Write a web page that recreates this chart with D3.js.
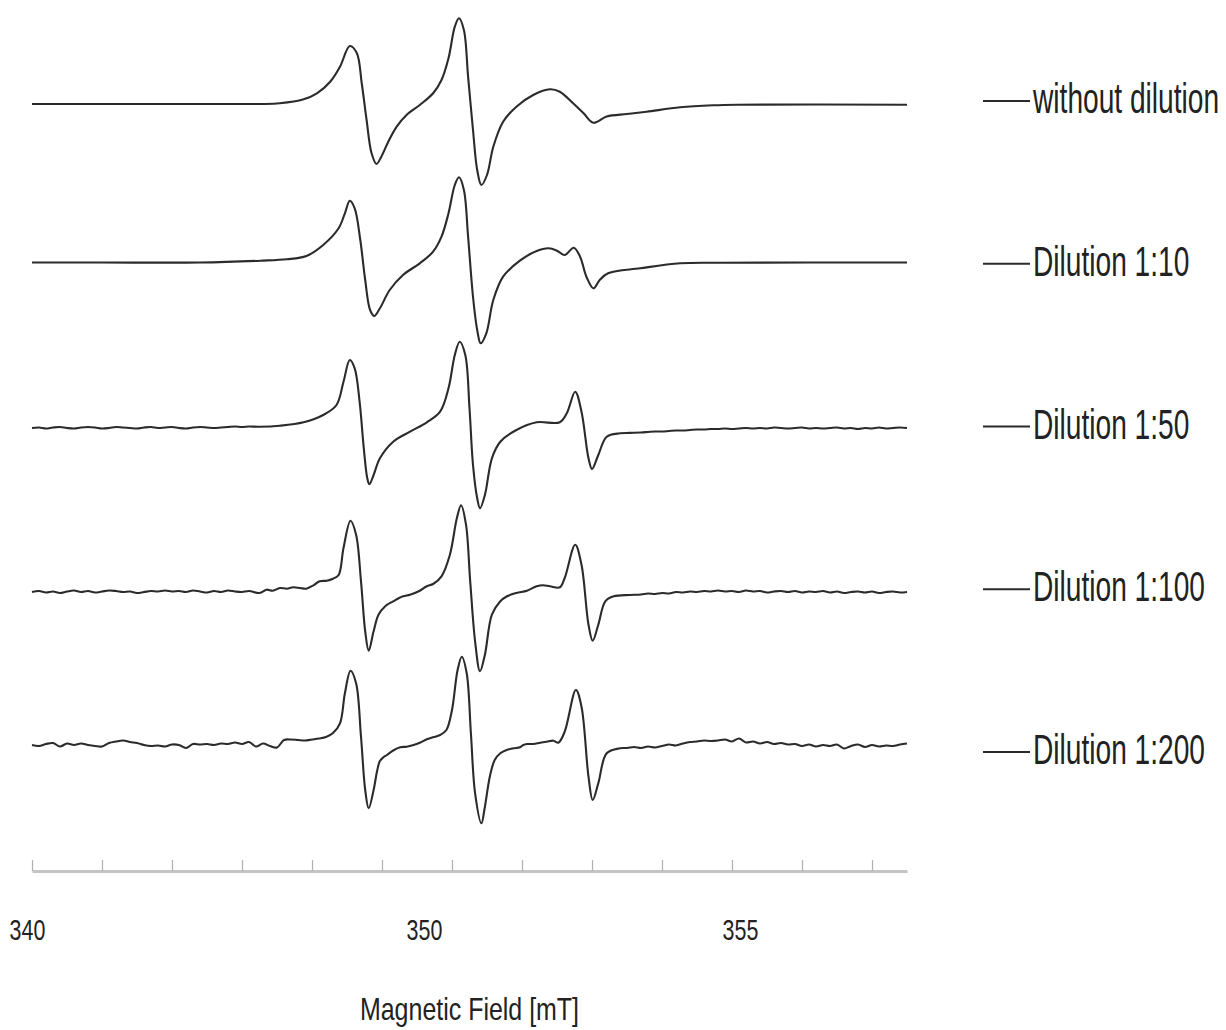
<!DOCTYPE html>
<html><head><meta charset="utf-8">
<script src="https://cdn.jsdelivr.net/npm/d3@7"></script>
<style>html,body{margin:0;padding:0;background:#fff;} svg{display:block;}</style>
</head><body>
<svg id="chart" width="1226" height="1030"></svg>
<script>
// ---------- data ----------
const seriesNames = ["without dilution", "Dilution 1:10", "Dilution 1:50", "Dilution 1:100", "Dilution 1:200"];
// vertical stacking offsets of the spectra (a.u.)
const stackOffsets = [796, 637.5, 472, 308, 155];
const tickLabels = [340, 350, 355];
const axisTitle = "Magnetic Field [mT]";

// [field mT, intensity a.u.]
const withoutDilution = [
 [345.00,0],[346.50,0],[347.90,0],[348.26,0],[348.54,0.7],[348.88,4.7],[349.07,10.7],[349.26,22.3],[349.40,37.3],
 [349.54,58],[349.64,51],[349.71,21],[349.78,-16],[349.85,-49],[349.92,-60],[349.99,-52.7],[350.09,-37.7],[350.21,-22.7],
 [350.35,-11],[350.54,-1],[350.73,10.7],[350.85,24],[350.95,45.7],[351.04,77.3],[351.10,85.7],[351.17,74],[351.23,27.3],
 [351.30,-26],[351.36,-66],[351.42,-81],[351.50,-71],[351.59,-42.7],[351.73,-17.7],[351.92,-2.7],[352.16,9],[352.40,14.7],
 [352.54,12.3],[352.73,0.7],[352.88,-9.3],[353.02,-18.7],[353.21,-12.5],[353.50,-10],[353.78,-7.7],[354.26,-3.3],
 [354.73,-1.3],[355.07,-0.7],[357.50,-0.7]
];
const dilution10 = [
 [345.00,0],[346.00,0],[347.40,0],[348.26,1.8],[348.64,3.2],[348.92,6.5],[349.16,17.5],[349.38,34.2],[349.47,49.2],
 [349.54,61.8],[349.61,54.2],[349.69,22.5],[349.76,-17.5],[349.83,-47.5],[349.89,-53.5],[349.97,-45.8],[350.11,-27.5],
 [350.30,-12.5],[350.54,-0.8],[350.73,10.8],[350.85,25.8],[350.95,49.2],[351.04,77.5],[351.10,85.2],[351.17,72.5],
 [351.23,25.8],[351.30,-34.2],[351.36,-67.5],[351.41,-80.8],[351.49,-70.8],[351.59,-37.5],[351.73,-14.2],[351.97,1.8],
 [352.21,11.5],[352.38,14.2],[352.50,11.8],[352.61,7.5],[352.74,14.8],[352.83,5.8],[352.92,-14.2],[353.02,-25.8],
 [353.11,-17.5],[353.23,-10.8],[353.69,-5.8],[354.26,-0.8],[354.83,-0.2],[357.50,0]
];
const dilution50 = [
 [345.0,0],[345.1,0.5],[345.2,-0.5],[345.3,0.5],[345.4,1],[345.5,0],[345.6,-0.5],[345.7,0.5],[345.8,1],[345.9,0.5],
 [346.0,-0.5],[346.1,0],[346.2,1],[346.3,0.5],[346.4,0],[346.5,-0.5],[346.6,0.5],[346.7,1],[346.8,0],[346.9,0.5],
 [347.0,1],[347.1,0],[347.2,-0.5],[347.3,0.5],[347.4,1],[347.5,0.5],[347.6,0],[347.7,0.5],[347.8,1],[347.9,1.5],
 [348.0,1],[348.1,1.5],
 [348.25,1.3],[348.54,2.3],[348.88,5.7],[349.16,13],[349.35,23],[349.45,46.3],[349.54,68],[349.61,59.7],[349.68,26.3],
 [349.74,-20.3],[349.79,-50.3],[349.82,-56.3],[349.88,-47],[349.97,-30.3],[350.16,-13.7],[350.40,-3.7],[350.64,5.7],
 [350.83,16.3],[350.95,39.7],[351.04,73],[351.11,86.3],[351.19,73],[351.25,19.7],[351.30,-37],[351.36,-70.3],
 [351.40,-80.3],[351.47,-67],[351.57,-30.3],[351.69,-13.7],[351.92,-2],[352.21,5.7],[352.54,5.7],[352.64,14.7],
 [352.76,36.3],[352.85,16.3],[352.95,-30.3],[353.00,-41],[353.09,-27],[353.21,-8.7],[353.40,-5.3],[353.54,-4.9],
 [353.7,-4.5],[353.8,-4],[353.9,-3.5],[354.0,-3.5],[354.1,-3],[354.2,-2.5],[354.3,-2.5],[354.4,-2],[354.5,-1.5],
 [354.6,-1.5],[354.7,-1],[354.8,-1],[354.9,-0.5],[355.0,-1],[355.1,-0.5],[355.2,0],[355.3,-0.5],[355.4,0],[355.5,-0.5],
 [355.6,0.5],[355.7,0],[355.8,-0.5],[355.9,0],[356.0,0.5],[356.1,-0.5],[356.2,0],[356.3,-0.5],[356.4,0],[356.5,0.5],
 [356.6,-0.5],[356.7,0],[356.8,-1],[356.9,0],[357.0,-0.5],[357.1,0.5],[357.2,-0.5],[357.3,0],[357.4,0.5],[357.5,0]
];
const dilution100 = [
 [345.0,0],[345.1,1],[345.2,-0.5],[345.3,0.5],[345.4,-1],[345.5,0.5],[345.6,1.5],[345.7,0],[345.8,1],[345.9,-0.5],
 [346.0,0.5],[346.1,1.5],[346.2,1],[346.3,0],[346.4,0.5],[346.5,-1],[346.6,0],[346.7,1],[346.8,0.5],[346.9,1.5],
 [347.0,0.5],[347.1,1],[347.2,0],[347.3,1.5],[347.4,0.5],[347.5,-0.5],[347.6,1],[347.7,0],[347.8,1.5],[347.9,0.5],
 [348.0,0],[348.1,1],
 [348.25,-1],[348.35,2.3],[348.44,1.3],[348.54,4],[348.64,3.3],[348.73,4.7],[348.83,4],[348.92,3.3],[349.02,6.7],
 [349.11,10.7],[349.21,11.3],[349.30,13.3],[349.38,17],[349.45,44],[349.55,71.3],[349.63,57.3],[349.70,10.7],
 [349.76,-39.3],[349.81,-58.7],[349.88,-39.3],[349.95,-22.7],[350.05,-14],[350.16,-9.3],[350.30,-4.3],[350.40,-2.7],
 [350.54,1.3],[350.64,5.7],[350.73,8],[350.85,15.7],[350.97,37.3],[351.07,74],[351.13,86.7],[351.20,67.3],[351.26,10.7],
 [351.33,-49.3],[351.40,-79.3],[351.47,-62.7],[351.57,-22.7],[351.69,-9.3],[351.78,-4.5],[351.92,-1],[352.07,1.3],
 [352.21,5.7],[352.30,6.7],[352.40,5.7],[352.54,4.7],[352.61,14],[352.76,47.3],[352.85,27.3],[352.95,-32.7],
 [353.01,-48.7],[353.09,-32.7],[353.19,-9.3],[353.31,-4.3],[353.54,-3],
 [353.7,-2.5],[353.8,-1.5],[353.9,-2],[354.0,-1],[354.1,-1.5],[354.2,0],[354.3,-0.5],[354.4,0.5],[354.5,0],[354.6,1],
 [354.7,0.5],[354.8,1.5],[354.9,0.5],[355.0,1],[355.1,0],[355.2,1.5],[355.3,0.5],[355.4,1],[355.5,-0.5],[355.6,0.5],
 [355.7,1],[355.8,0],[355.9,1],[356.0,-0.5],[356.1,0.5],[356.2,0],[356.3,1],[356.4,-0.5],[356.5,0.5],[356.6,-1],
 [356.7,0],[356.8,0.5],[356.9,-0.5],[357.0,0.5],[357.1,-1],[357.2,0],[357.3,0.5],[357.4,-0.5],[357.5,0]
];
const dilution200 = [
 [345.0,0],[345.1,-1],[345.2,1],[345.3,2],[345.4,-1.5],[345.5,1.5],[345.6,0],[345.7,1.5],[345.8,0],[345.9,-1],
 [346.0,-1.5],[346.1,2],[346.2,3.5],[346.3,4.5],[346.4,3],[346.5,2],[346.6,0],[346.7,-1],[346.8,-0.5],[346.9,-1.5],
 [347.0,0.5],[347.1,0],[347.2,-3],[347.3,1],[347.4,0.5],[347.5,1],[347.6,0],[347.7,1.5],[347.8,1],[347.9,2.5],
 [348.0,1],[348.1,3],[348.2,-1.5],[348.3,1.5],[348.4,-1],[348.5,-2.5],[348.6,5],[348.7,5.5],[348.8,5],[348.9,4.5],
 [349.0,5.5],[349.1,6.5],[349.2,8],[349.3,12],
 [349.40,21.7],[349.47,51.7],[349.55,74.3],[349.63,61.7],[349.70,8.3],[349.76,-45],[349.81,-63.3],[349.88,-45],
 [349.93,-26],[349.97,-16],[350.02,-12.3],[350.07,-10],[350.16,-5.5],[350.26,-2.3],[350.35,-1.7],[350.45,0],
 [350.54,2.3],[350.64,5.7],[350.73,7.7],[350.83,10],[350.92,15],[351.00,35],[351.08,75],[351.14,88.3],[351.21,71.7],
 [351.27,11.7],[351.33,-48.3],[351.42,-78.3],[351.47,-61.7],[351.54,-31.7],[351.61,-15],[351.69,-8.3],[351.78,-5],
 [351.88,-3.3],[351.97,-2.3],[352.02,0],[352.07,1],[352.16,1],[352.26,2.3],[352.35,3.3],[352.45,4.3],[352.52,2.3],
 [352.61,13.3],[352.77,55],[352.85,38.3],[352.95,-31.7],[353.01,-55],[353.09,-38.3],[353.21,-8.3],[353.40,-3.3],
 [353.5,-3],[353.6,-2],[353.7,-3],[353.8,-1.5],[353.9,-2.5],[354.0,-1],[354.1,0.5],[354.2,-0.5],[354.3,1.5],[354.4,3],
 [354.5,3.5],[354.6,4.5],[354.7,4],[354.8,4.5],[354.9,5.5],[355.0,3.5],[355.1,6.5],[355.2,2.5],[355.3,3.5],[355.4,1.5],
 [355.5,3],[355.6,1],[355.7,2],[355.8,0.5],[355.9,1],[356.0,-1],[356.1,0.5],[356.2,-1.5],[356.3,0],[356.4,-1],
 [356.5,0.5],[356.6,-3.5],[356.7,-1],[356.8,0.5],[356.9,-2],[357.0,0],[357.1,-1.5],[357.2,-0.5],[357.3,-1],[357.4,0.5],
 [357.5,1.5]
];
const spectra = [withoutDilution, dilution10, dilution50, dilution100, dilution200];

// ---------- drawing ----------
const svg = d3.select("#chart");
const fontFam = "'Liberation Sans', Arial, 'DejaVu Sans', sans-serif";
const x = d3.scaleLinear().domain([345, 357.5]).range([32, 907]);
const y = d3.scaleLinear().domain([0, 900]).range([900, 0]);
const line = d3.line().x(d => x(d[0])).y(d => y(d[1])).curve(d3.curveCatmullRom.alpha(0.5));

svg.append("g").selectAll("path")
  .data(spectra.map((s, i) => s.map(d => [d[0], d[1] + stackOffsets[i]])))
  .join("path")
  .attr("d", line)
  .attr("fill", "none")
  .attr("stroke", "#2b2b2b")
  .attr("stroke-width", 2.1)
  .attr("stroke-linejoin", "round");

// axis (ticks only, no labels)
const axisG = svg.append("g").attr("transform", "translate(0,871)")
  .call(d3.axisBottom(x).tickValues(x.ticks(12)).tickSizeInner(-11).tickSizeOuter(0).tickFormat(""));
axisG.select(".domain").attr("stroke", "#c4c4c4").attr("stroke-width", 3);
axisG.selectAll(".tick line").attr("stroke", "#b0b0b0").attr("stroke-width", 1.2);

// tick labels (placed by their own piecewise scale as in the original figure)
const labelX = d3.scaleLinear().domain(tickLabels).range([27, 424, 740]);
const labG = svg.append("g").attr("transform", "translate(0,940)")
  .call(d3.axisBottom(labelX).tickValues(tickLabels).tickSize(0).tickPadding(0).tickFormat(d3.format("d")));
labG.select(".domain").remove();
labG.selectAll(".tick text")
  .attr("y", 0).attr("dy", null)
  .attr("transform", "scale(0.74,1)")
  .attr("font-family", fontFam).attr("font-size", 29).attr("fill", "#222");

// axis title
svg.append("text")
  .attr("transform", `translate(${(x.range()[0] + x.range()[1]) / 2},1020) scale(0.78,1)`)
  .attr("text-anchor", "middle")
  .attr("font-family", fontFam).attr("font-size", 32).attr("fill", "#222")
  .text(axisTitle);

// legend
const legY = d3.scalePoint().domain(seriesNames).range([101, 752]);
const leg = svg.append("g").selectAll("g").data(seriesNames).join("g")
  .attr("transform", d => `translate(983,${legY(d)})`);
leg.append("line").attr("x1", 0).attr("x2", 47).attr("y1", 0).attr("y2", 0)
  .attr("stroke", "#2b2b2b").attr("stroke-width", 2);
leg.append("text")
  .attr("transform", "translate(50,12) scale(0.67,1)")
  .attr("font-family", fontFam).attr("font-size", 42).attr("fill", "#222")
  .text(d => d);
</script>
</body></html>
